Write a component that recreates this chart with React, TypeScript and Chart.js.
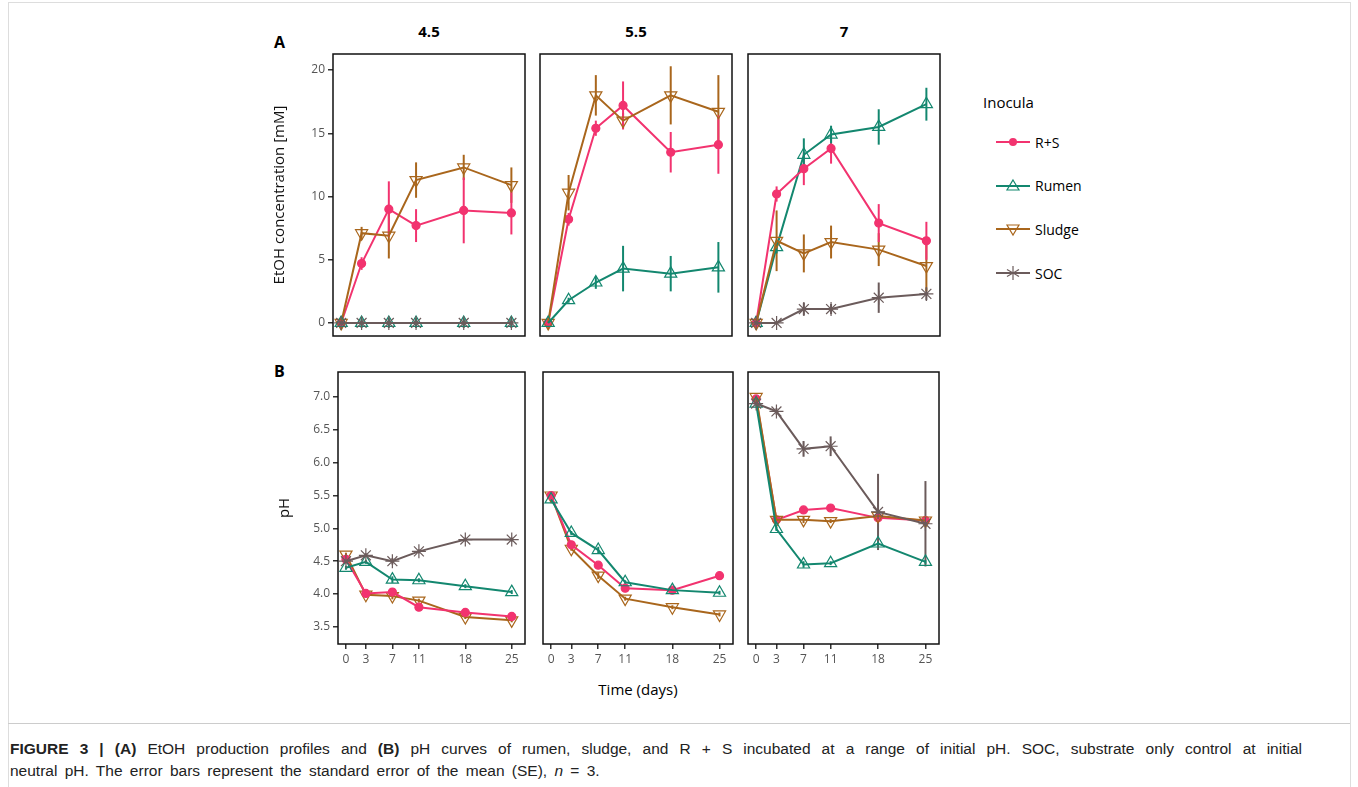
import { useEffect, useRef } from 'react';
import { Chart, registerables } from 'chart.js';

Chart.register(...registerables);

const DAYS = [0, 3, 7, 11, 18, 25];

// EtOH [mM] per initial pH
const ETOH_RS_45 = [0, 4.7, 9.0, 7.7, 8.9, 8.7];
const ETOH_RS_45_SE = [0, 0.5, 2.2, 1.3, 2.6, 1.7];
const ETOH_RUMEN_45 = [0, 0, 0, 0, 0, 0];
const ETOH_RUMEN_45_SE = [0.3, 0.3, 0.3, 0.3, 0.3, 0.3];
const ETOH_SLUDGE_45 = [0, 7.1, 6.9, 11.3, 12.3, 10.9];
const ETOH_SLUDGE_45_SE = [0.5, 0.5, 1.8, 1.4, 1.0, 1.4];
const ETOH_SOC_45 = [0, 0, 0, 0, 0, 0];
const ETOH_SOC_45_SE = [0.4, 0.4, 0.4, 0.4, 0.4, 0.4];

const ETOH_RS_55 = [0, 8.2, 15.4, 17.2, 13.5, 14.1];
const ETOH_RS_55_SE = [0, 0.5, 0.6, 1.9, 1.6, 2.3];
const ETOH_RUMEN_55 = [0, 1.8, 3.2, 4.3, 3.9, 4.4];
const ETOH_RUMEN_55_SE = [0, 0.2, 0.5, 1.8, 1.4, 2.0];
const ETOH_SLUDGE_55 = [0, 10.3, 18.0, 16.0, 18.0, 16.7];
const ETOH_SLUDGE_55_SE = [0.5, 1.4, 1.6, 0.6, 2.3, 2.9];

const ETOH_RS_7 = [0, 10.2, 12.2, 13.8, 7.9, 6.5];
const ETOH_RS_7_SE = [0, 0.6, 1.3, 1.2, 1.5, 1.5];
const ETOH_RUMEN_7 = [0, 6.0, 13.3, 14.9, 15.5, 17.3];
const ETOH_RUMEN_7_SE = [0, 0.5, 1.3, 0.7, 1.4, 1.3];
const ETOH_SLUDGE_7 = [0, 6.5, 5.5, 6.4, 5.8, 4.5];
const ETOH_SLUDGE_7_SE = [0.5, 2.4, 1.5, 1.3, 1.3, 2.0];
const ETOH_SOC_7 = [0, 0, 1.1, 1.1, 2.0, 2.3];
const ETOH_SOC_7_SE = [0, 0, 0.5, 0.4, 1.2, 0.5];

// pH curves
const PH_RS_45 = [4.53, 4.01, 4.03, 3.8, 3.72, 3.66];
const PH_RUMEN_45 = [4.4, 4.49, 4.22, 4.21, 4.12, 4.03];
const PH_SLUDGE_45 = [4.6, 3.99, 3.97, 3.9, 3.65, 3.6];
const PH_SOC_45 = [4.5, 4.59, 4.5, 4.65, 4.83, 4.83];

const PH_RS_55 = [5.5, 4.75, 4.44, 4.09, 4.06, 4.28];
const PH_RUMEN_55 = [5.44, 4.93, 4.67, 4.18, 4.06, 4.02];
const PH_SLUDGE_55 = [5.5, 4.69, 4.28, 3.93, 3.8, 3.69];

const PH_RS_7 = [6.97, 5.13, 5.28, 5.31, 5.16, 5.12];
const PH_RUMEN_7 = [6.9, 4.99, 4.45, 4.47, 4.77, 4.49];
const PH_SLUDGE_7 = [7.0, 5.13, 5.13, 5.11, 5.19, 5.12];
const PH_SOC_7 = [6.9, 6.78, 6.21, 6.25, 5.25, 5.07];
const PH_SOC_7_SE = [0, 0.05, 0.12, 0.15, 0.58, 0.65];
const PH_SMALL_SE = [0.03, 0.03, 0.05, 0.03, 0.03, 0.03];

const ETOH_TICKS = [0, 5, 10, 15, 20];
const PH_TICKS = [3.5, 4, 4.5, 5, 5.5, 6, 6.5, 7];
const PH_LABELS = ['4.5', '5.5', '7'];

const COLORS: Record<string, string> = {
  'R+S': '#f2336f',
  Rumen: '#13876f',
  Sludge: '#a9661c',
  SOC: '#6b5b5b',
};

type Series = { name: string; values: number[]; se: number[] };

const errorBars = {
  id: 'errorBars',
  beforeDatasetsDraw(chart: any) {
    const { ctx, scales } = chart;
    chart.data.datasets.forEach((ds: any) => {
      if (!ds.se) return;
      ctx.save();
      ctx.strokeStyle = ds.borderColor;
      ctx.lineWidth = 2;
      ds.data.forEach((p: any, i: number) => {
        const e = ds.se[i];
        if (!e) return;
        const x = scales.x.getPixelForValue(p.x);
        ctx.beginPath();
        ctx.moveTo(x, scales.y.getPixelForValue(p.y - e));
        ctx.lineTo(x, scales.y.getPixelForValue(p.y + e));
        ctx.stroke();
      });
      ctx.restore();
    });
  },
  afterDraw(chart: any) {
    const { ctx, chartArea: a } = chart;
    ctx.save();
    ctx.strokeStyle = '#111';
    ctx.lineWidth = 1.5;
    ctx.strokeRect(a.left, a.top, a.right - a.left, a.bottom - a.top);
    ctx.restore();
  },
};

function styleFor(name: string) {
  const c = COLORS[name];
  const base: any = { borderColor: c, pointBorderColor: c, borderWidth: 2, pointBorderWidth: 1.2 };
  if (name === 'R+S') return { ...base, pointStyle: 'circle', pointRadius: 4, pointBackgroundColor: c };
  if (name === 'Rumen') return { ...base, pointStyle: 'triangle', pointRadius: 7, pointBackgroundColor: 'transparent' };
  if (name === 'Sludge')
    return { ...base, pointStyle: 'triangle', pointRotation: 180, pointRadius: 7, pointBackgroundColor: 'transparent' };
  return { ...base, pointStyle: 'star', pointRadius: 7, pointBackgroundColor: 'transparent' };
}

const ETOH_PANELS: Series[][] = [
  [
    { name: 'SOC', values: ETOH_SOC_45, se: ETOH_SOC_45_SE },
    { name: 'Rumen', values: ETOH_RUMEN_45, se: ETOH_RUMEN_45_SE },
    { name: 'Sludge', values: ETOH_SLUDGE_45, se: ETOH_SLUDGE_45_SE },
    { name: 'R+S', values: ETOH_RS_45, se: ETOH_RS_45_SE },
  ],
  [
    { name: 'Rumen', values: ETOH_RUMEN_55, se: ETOH_RUMEN_55_SE },
    { name: 'Sludge', values: ETOH_SLUDGE_55, se: ETOH_SLUDGE_55_SE },
    { name: 'R+S', values: ETOH_RS_55, se: ETOH_RS_55_SE },
  ],
  [
    { name: 'SOC', values: ETOH_SOC_7, se: ETOH_SOC_7_SE },
    { name: 'Sludge', values: ETOH_SLUDGE_7, se: ETOH_SLUDGE_7_SE },
    { name: 'R+S', values: ETOH_RS_7, se: ETOH_RS_7_SE },
    { name: 'Rumen', values: ETOH_RUMEN_7, se: ETOH_RUMEN_7_SE },
  ],
];

const PH_PANELS: Series[][] = [
  [
    { name: 'SOC', values: PH_SOC_45, se: PH_SMALL_SE },
    { name: 'Rumen', values: PH_RUMEN_45, se: PH_SMALL_SE },
    { name: 'R+S', values: PH_RS_45, se: PH_SMALL_SE },
    { name: 'Sludge', values: PH_SLUDGE_45, se: PH_SMALL_SE },
  ],
  [
    { name: 'Rumen', values: PH_RUMEN_55, se: PH_SMALL_SE },
    { name: 'R+S', values: PH_RS_55, se: PH_SMALL_SE },
    { name: 'Sludge', values: PH_SLUDGE_55, se: PH_SMALL_SE },
  ],
  [
    { name: 'SOC', values: PH_SOC_7, se: PH_SOC_7_SE },
    { name: 'Rumen', values: PH_RUMEN_7, se: PH_SMALL_SE },
    { name: 'Sludge', values: PH_SLUDGE_7, se: PH_SMALL_SE },
    { name: 'R+S', values: PH_RS_7, se: PH_SMALL_SE },
  ],
];

const TICK_FONT = { family: '"Open Sans", sans-serif', size: 12 };
const PAD = 2;
const Y_AXIS_W = 62;
const X_AXIS_H = 28;

type PanelProps = {
  series: Series[];
  row: 0 | 1;
  col: number;
  box: { left: number; top: number; right: number; bottom: number };
};

function Panel({ series, row, col, box }: PanelProps) {
  const ref = useRef<HTMLCanvasElement>(null);
  const leftExtra = col === 0 ? Y_AXIS_W : PAD;
  const bottomExtra = row === 1 ? X_AXIS_H : PAD;
  const width = box.right - box.left + leftExtra + PAD;
  const height = box.bottom - box.top + bottomExtra + PAD;

  useEffect(() => {
    if (!ref.current) return;
    const chart = new Chart(ref.current, {
      type: 'line',
      data: {
        datasets: series.map((s) => ({
          label: s.name,
          data: DAYS.map((d, i) => ({ x: d, y: s.values[i] })),
          se: s.se,
          clip: 8,
          ...styleFor(s.name),
        })) as any,
      },
      options: {
        responsive: false,
        animation: false,
        devicePixelRatio: 1,
        layout: {
          autoPadding: false,
          padding: { top: PAD, right: PAD, left: col === 0 ? 0 : PAD, bottom: row === 1 ? 0 : PAD },
        },
        plugins: { legend: { display: false }, tooltip: { enabled: false } },
        scales: {
          x: {
            type: 'linear',
            min: -1.2,
            max: 27,
            display: row === 1,
            afterBuildTicks: (axis: any) => {
              axis.ticks = DAYS.map((v) => ({ value: v }));
            },
            afterFit: (axis: any) => {
              axis.height = row === 1 ? X_AXIS_H : 0;
              axis.paddingLeft = 0;
              axis.paddingRight = 0;
            },
            grid: { drawOnChartArea: false, tickLength: 5, color: '#333', lineWidth: 1.5 },
            border: { display: false },
            ticks: { color: '#555', font: TICK_FONT, maxRotation: 0, autoSkip: false, padding: 3 },
          },
          y: {
            min: row === 0 ? -1.03 : 3.24,
            max: row === 0 ? 21.27 : 7.38,
            display: col === 0,
            afterBuildTicks: (axis: any) => {
              axis.ticks = (row === 0 ? ETOH_TICKS : PH_TICKS).map((v) => ({ value: v }));
            },
            afterFit: (axis: any) => {
              axis.width = col === 0 ? Y_AXIS_W : 0;
              axis.paddingTop = 0;
              axis.paddingBottom = 0;
            },
            grid: { drawOnChartArea: false, tickLength: 5, color: '#333', lineWidth: 1.5 },
            border: { display: false },
            title: {
              display: true,
              text: row === 0 ? 'EtOH concentration [mM]' : 'pH',
              color: '#111',
              font: { family: '"Open Sans", sans-serif', size: 15 },
              padding: 0,
            },
            ticks: {
              color: '#555',
              font: TICK_FONT,
              padding: 3,
              callback: (v: any) => (row === 0 ? String(v) : Number(v).toFixed(1)),
            },
          },
        },
      } as any,
      plugins: [errorBars],
    });
    return () => chart.destroy();
  }, []);

  return (
    <canvas
      ref={ref}
      width={width}
      height={height}
      style={{ position: 'absolute', left: box.left - leftExtra, top: box.top - PAD, width, height }}
    />
  );
}

const TOP_BOXES = [
  { left: 333, top: 54, right: 525, bottom: 336 },
  { left: 540, top: 54, right: 732, bottom: 336 },
  { left: 748, top: 54, right: 940, bottom: 336 },
];
const BOTTOM_BOXES = [
  { left: 338, top: 372, right: 525, bottom: 644 },
  { left: 543, top: 372, right: 733, bottom: 644 },
  { left: 748, top: 372, right: 939, bottom: 644 },
];

const LEGEND_ITEMS = ['R+S', 'Rumen', 'Sludge', 'SOC'];

function LegendMarker({ name }: { name: string }) {
  const c = COLORS[name];
  let mark;
  if (name === 'R+S') mark = <circle cx={17} cy={10} r={4} fill={c} />;
  else if (name === 'Rumen') mark = <polygon points="17,4 23,14 11,14" fill="none" stroke={c} strokeWidth={1.2} />;
  else if (name === 'Sludge') mark = <polygon points="11,6 23,6 17,16" fill="none" stroke={c} strokeWidth={1.2} />;
  else
    mark = (
      <g stroke={c} strokeWidth={1.2}>
        <line x1={17} y1={3} x2={17} y2={17} />
        <line x1={11} y1={6.5} x2={23} y2={13.5} />
        <line x1={11} y1={13.5} x2={23} y2={6.5} />
      </g>
    );
  return (
    <svg width={34} height={20} style={{ display: 'block' }}>
      <line x1={0} y1={10} x2={34} y2={10} stroke={c} strokeWidth={2} />
      {mark}
    </svg>
  );
}

export default function App() {
  const sans = '"Open Sans", sans-serif';
  const captionFont = '"Liberation Sans", Arial, sans-serif';
  return (
    <div style={{ position: 'fixed', left: 0, top: 0, width: 1358, height: 787, background: '#fff', overflow: 'hidden', fontFamily: sans }}>
      <div style={{ position: 'absolute', left: 8, top: 2, width: 1341, height: 784, border: '1px solid #ddd' }} />
      <div style={{ position: 'absolute', left: 274, top: 31, fontWeight: 700, fontSize: 16 }}>A</div>
      <div style={{ position: 'absolute', left: 274, top: 360, fontWeight: 700, fontSize: 16 }}>B</div>
      {PH_LABELS.map((t, i) => (
        <div
          key={t}
          style={{
            position: 'absolute',
            left: TOP_BOXES[i].left,
            width: TOP_BOXES[i].right - TOP_BOXES[i].left,
            top: 21,
            textAlign: 'center',
            fontWeight: 700,
            fontSize: 15,
          }}
        >
          {t}
        </div>
      ))}
      {ETOH_PANELS.map((s, i) => (
        <Panel key={'e' + i} series={s} row={0} col={i} box={TOP_BOXES[i]} />
      ))}
      {PH_PANELS.map((s, i) => (
        <Panel key={'p' + i} series={s} row={1} col={i} box={BOTTOM_BOXES[i]} />
      ))}
      <div style={{ position: 'absolute', left: 538, width: 200, top: 679, textAlign: 'center', fontSize: 15 }}>Time (days)</div>
      <div style={{ position: 'absolute', left: 983, top: 92, fontSize: 15 }}>Inocula</div>
      {LEGEND_ITEMS.map((n, i) => (
        <div key={n} style={{ position: 'absolute', left: 996, top: 132 + i * 43.7, display: 'flex', alignItems: 'center', gap: 5, fontSize: 14 }}>
          <LegendMarker name={n} />
          <span>{n}</span>
        </div>
      ))}
      <div style={{ position: 'absolute', left: 8, right: 8, top: 723, borderTop: '1px solid #ccc' }} />
      <div
        style={{
          position: 'absolute',
          left: 10,
          top: 738,
          width: 1292,
          fontFamily: captionFont,
          fontSize: 15.5,
          lineHeight: '22px',
          color: '#222',
          wordSpacing: 3,
        }}
      >
        <div style={{ textAlign: 'justify', textAlignLast: 'justify', whiteSpace: 'nowrap' }}>
          <b>FIGURE 3 | (A)</b> EtOH production profiles and <b>(B)</b> pH curves of rumen, sludge, and R + S incubated at a range of
          initial pH. SOC, substrate only control at initial
        </div>
        <div>
          neutral pH. The error bars represent the standard error of the mean (SE), <i>n</i> = 3.
        </div>
      </div>
    </div>
  );
}
